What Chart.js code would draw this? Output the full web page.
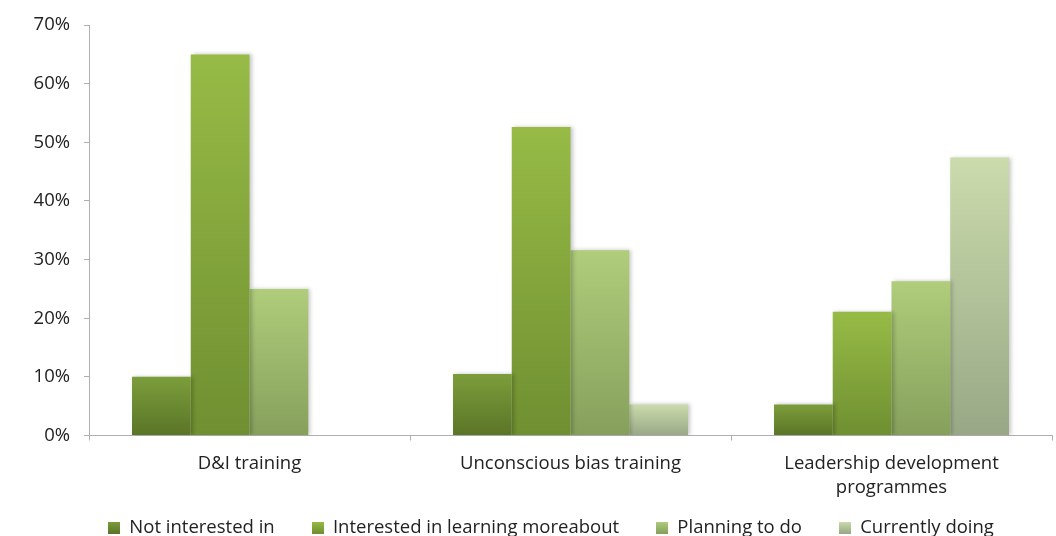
<!DOCTYPE html>
<html>
<head>
<meta charset="utf-8">
<script src="https://cdn.jsdelivr.net/npm/chart.js"></script>
<style>
    html, body { margin: 0; padding: 0; background: #fff; overflow: hidden; }
    #frame { width: 1056px; height: 536px; overflow: hidden; }
    #wrap { position: relative; width: 1056px; height: 565px; }
</style>
</head>
<body>
<div id="frame"><div id="wrap"><canvas id="trainingChart"></canvas></div></div>
<script>
const categories = ['D&I training', 'Unconscious bias training', ['Leadership development', 'programmes']];
const seriesNames = ['Not interested in', 'Interested in learning moreabout', 'Planning to do', 'Currently doing'];

// share of respondents, %
const notInterested = [10, 10.5, 5.3];
const interested = [65, 52.6, 21.1];
const planning = [25, 31.6, 26.3];
const currentlyDoing = [0, 5.3, 47.4];

const yMax = 70, yStep = 10;

// top / bottom colour of each series' gradient
const shades = [
    ['#7c9d3b', '#5a7527'],
    ['#97bb46', '#6f8f31'],
    ['#afcd7b', '#86a05c'],
    ['#cbdbac', '#98a886']
];

const axisColor = '#b0b0b0';
const textColor = '#222';
const fontFamily = "'Open Sans', sans-serif";
const font = { family: fontFamily, size: 18.5 };

// each bar gets its own top-to-bottom gradient
function barFill(i) {
    return function (ctx) {
        const chart = ctx.chart;
        if (ctx.type !== 'data' || !chart.chartArea) return shades[i][0];
        const y = chart.scales.y;
        const top = y.getPixelForValue(ctx.raw);
        const base = y.getPixelForValue(0);
        if (!(base - top > 0)) return shades[i][0];
        const g = chart.ctx.createLinearGradient(0, top, 0, base);
        g.addColorStop(0, shades[i][0]);
        g.addColorStop(1, shades[i][1]);
        return g;
    };
}

// small gradient squares for the legend
function swatch(i) {
    const c = document.createElement('canvas');
    c.width = 12;
    c.height = 12;
    const g2 = c.getContext('2d');
    const g = g2.createLinearGradient(0, 0, 0, 12);
    g.addColorStop(0, shades[i][0]);
    g.addColorStop(1, shades[i][1]);
    g2.fillStyle = g;
    g2.fillRect(0, 0, 12, 12);
    return c;
}
const swatches = shades.map((s, i) => swatch(i));

const barShadow = {
    id: 'barShadow',
    beforeDatasetsDraw(chart) {
        const c = chart.ctx;
        c.save();
        c.shadowColor = 'rgba(0, 0, 0, 0.22)';
        c.shadowBlur = 4;
        c.shadowOffsetX = 2;
    },
    afterDatasetsDraw(chart) {
        chart.ctx.restore();
    }
};

// wide item spacing needs a big legend padding; pull the row back up under the axis labels
const legendNudge = {
    id: 'legendNudge',
    afterLayout(chart) {
        const lg = chart.legend;
        if (!lg) return;
        lg.top -= 18;
        lg.bottom -= 18;
        lg.left += 25;
        lg.right += 25;
    }
};

const seriesValues = [notInterested, interested, planning, currentlyDoing];

const datasets = seriesValues.map((values, i) => ({
    label: seriesNames[i],
    data: values,
    backgroundColor: barFill(i),
    borderWidth: 0,
    barPercentage: 1,
    categoryPercentage: 0.732
}));

new Chart(document.getElementById('trainingChart'), {
    type: 'bar',
    data: { labels: categories, datasets: datasets },
    plugins: [barShadow, legendNudge],
    options: {
        responsive: true,
        maintainAspectRatio: false,
        animation: false,
        layout: { padding: { top: 23, right: 4, bottom: 0, left: 0 } },
        plugins: {
            tooltip: { enabled: false },
            legend: {
                position: 'bottom',
                labels: {
                    usePointStyle: true,
                    boxWidth: 12,
                    padding: 37,
                    color: textColor,
                    font: font,
                    generateLabels: chart => chart.data.datasets.map((ds, i) => ({
                        text: ds.label,
                        pointStyle: swatches[i],
                        fillStyle: shades[i][0],
                        strokeStyle: 'transparent',
                        lineWidth: 0,
                        hidden: false,
                        datasetIndex: i,
                        fontColor: textColor
                    }))
                }
            }
        },
        scales: {
            x: {
                grid: { drawOnChartArea: false, tickLength: 5, color: axisColor, offset: true },
                border: { color: axisColor },
                ticks: {
                    color: textColor,
                    font: { family: fontFamily, size: 18.5, lineHeight: '24px' },
                    padding: 11,
                    maxRotation: 0,
                    autoSkip: false
                },
                afterFit(scale) { scale.height = 64; }
            },
            y: {
                min: 0,
                max: yMax,
                ticks: {
                    stepSize: yStep,
                    padding: 14,
                    color: textColor,
                    font: font,
                    callback: v => v + '%'
                },
                grid: { drawOnChartArea: false, tickLength: 5, color: axisColor },
                border: { color: axisColor },
                afterFit(scale) { scale.width = 89; }
            }
        }
    }
});
</script>
</body>
</html>
